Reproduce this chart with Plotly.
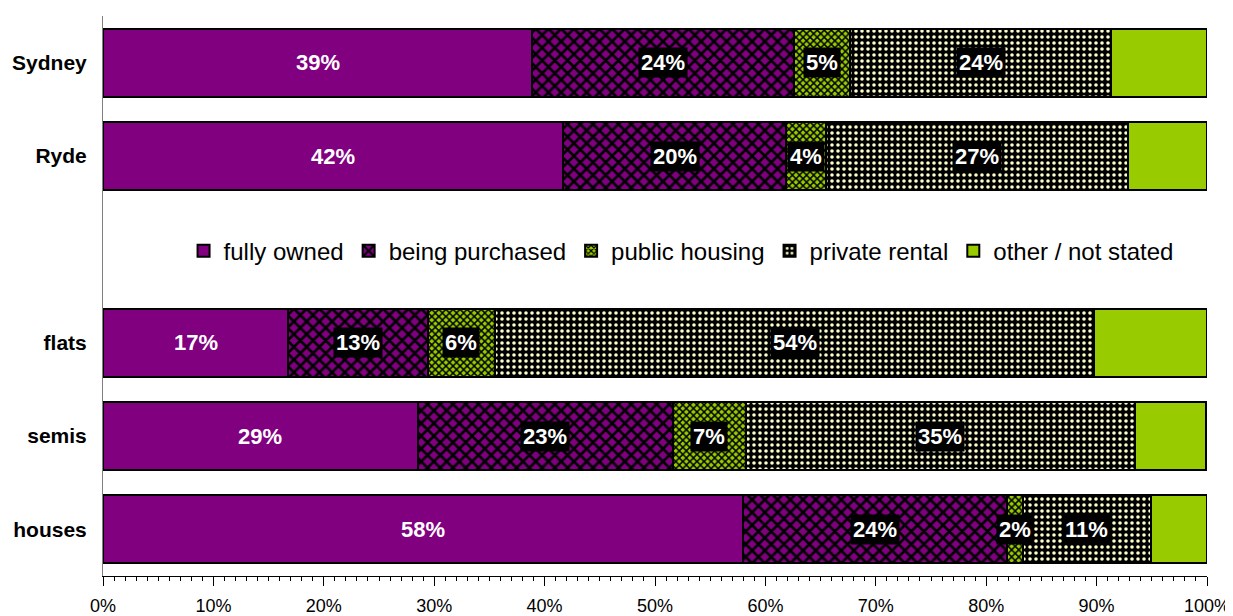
import plotly.graph_objects as go

categories = ["Sydney", "Ryde", " ", "flats", "semis", "houses"]
series_names = ["fully owned", "being purchased", "public housing", "private rental", "other / not stated"]
fully_owned = [38.9, 41.7, None, 16.8, 28.5, 58.0]
being_purchased = [23.7, 20.2, None, 12.6, 23.1, 23.9]
public_housing = [5.1, 3.6, None, 6.1, 6.6, 1.4]
private_rental = [23.6, 27.3, None, 54.3, 35.3, 11.6]
other_not_stated = [8.7, 7.2, None, 10.2, 6.4, 5.1]
labels = {
    "fully owned": ["39%", "42%", "", "17%", "29%", "58%"],
    "being purchased": ["24%", "20%", "", "13%", "23%", "24%"],
    "public housing": ["5%", "4%", "", "6%", "7%", "2%"],
    "private rental": ["24%", "27%", "", "54%", "35%", "11%"],
}
x_ticks = [0, 10, 20, 30, 40, 50, 60, 70, 80, 90, 100]

values = [fully_owned, being_purchased, public_housing, private_rental, other_not_stated]

PURPLE = "#800080"
GREEN = "#99CC00"
CREAM = "#FFFFCC"

markers = [
    dict(color=PURPLE, line=dict(color="black", width=2)),
    dict(color=PURPLE, line=dict(color="black", width=2),
         pattern=dict(shape="x", bgcolor=PURPLE, fgcolor="black", size=9, solidity=0.5, fillmode="replace")),
    dict(color=GREEN, line=dict(color="black", width=2),
         pattern=dict(shape="x", bgcolor=GREEN, fgcolor="black", size=5, solidity=0.5, fillmode="replace")),
    dict(color="black", line=dict(color="black", width=2),
         pattern=dict(shape=".", bgcolor="black", fgcolor=CREAM, size=6, solidity=0.28, fillmode="replace")),
    dict(color=GREEN, line=dict(color="black", width=2)),
]

FONT = "Liberation Sans, Arial"

fig = go.Figure()
for name, vals, mk in zip(series_names, values, markers):
    fig.add_trace(go.Bar(
        y=categories, x=vals, name=name, orientation="h",
        marker=mk, width=0.73, hoverinfo="x+name",
    ))

# labels
for si, name in enumerate(series_names[:4]):
    for ci, cat in enumerate(categories):
        v = values[si][ci]
        if v is None:
            continue
        start = sum(values[k][ci] for k in range(si))
        mid = start + v / 2
        txt = labels[name][ci]
        fig.add_annotation(
            x=mid, y=cat, text=f"<b>{txt}</b>", showarrow=False,
            font=dict(family=FONT, size=22, color="white"),
            bgcolor=None if si == 0 else "black",
            borderpad=2 if si > 0 else 0,
        )

# page body has an 8px margin, so the figure is offset by 8px
fig.update_layout(
    barmode="stack",
    width=1225, height=608,
    margin=dict(l=95, r=26, t=8, b=40),
    plot_bgcolor="white", paper_bgcolor="white",
    font=dict(family=FONT, color="black"),
    legend=dict(
        orientation="h", x=0.5236, xanchor="center", y=0.58, yanchor="middle",
        font=dict(family=FONT, size=24, color="black"),
        bgcolor="rgba(0,0,0,0)", traceorder="normal",
        itemwidth=30, tracegroupgap=0,
    ),
    showlegend=True,
)
fig.update_xaxes(
    range=[0, 100], tickvals=x_ticks, ticktext=[f"{t}%" for t in x_ticks],
    ticks="outside", ticklen=9, tickcolor="black", tickwidth=1,
    showline=True, linecolor="black", linewidth=1, showgrid=False, zeroline=False,
    tickfont=dict(size=18, family=FONT),
    ticklabelstandoff=4,
    minor=dict(dtick=1, ticks="outside", ticklen=4, tickcolor="black", showgrid=False),
    automargin=False,
)
fig.update_yaxes(
    categoryorder="array", categoryarray=categories, autorange="reversed",
    showline=True, linecolor="#808080", linewidth=1, showgrid=False, ticks="",
    tickfont=dict(size=21, family=FONT),
    ticklabelstandoff=11,
    automargin=False,
    tickvals=categories, ticktext=[f"<b>{c}</b>" for c in categories],
)

fig.write_html("out.html")
